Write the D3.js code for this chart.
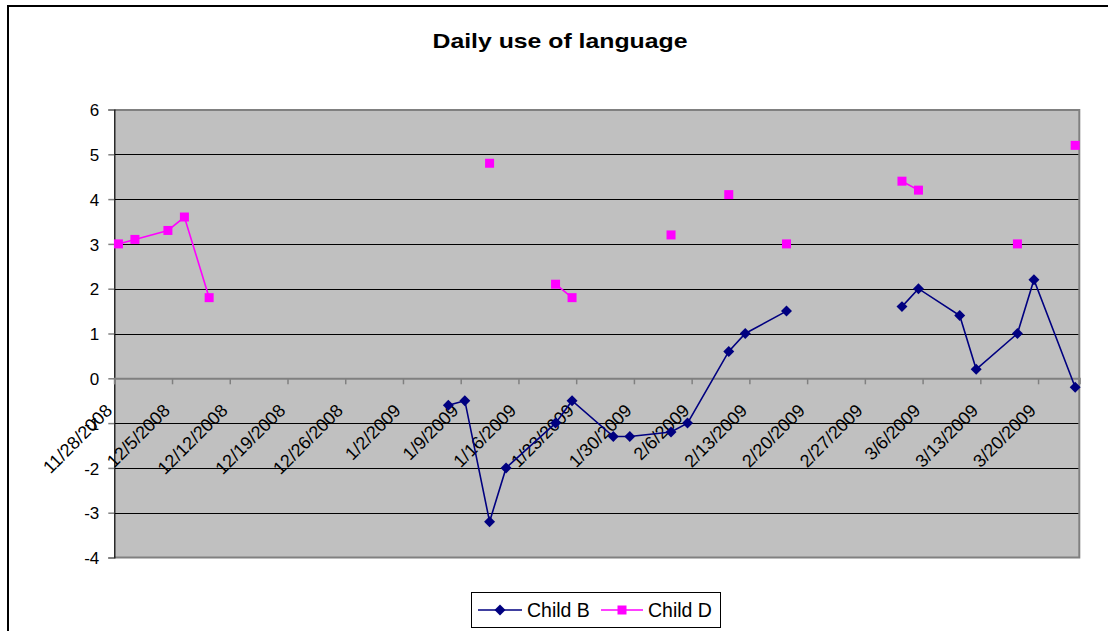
<!DOCTYPE html>
<html><head><meta charset="utf-8">
<script src="https://cdn.jsdelivr.net/npm/d3@7"></script>
<style>body{margin:0;background:#fff}svg{display:block;font-family:"Liberation Sans",Arial,sans-serif}</style>
</head><body><svg id="c" width="1108" height="631"></svg>
<script>
// ---- data ----
const dates = ["11/28/2008","11/30/2008","12/4/2008","12/6/2008","12/9/2008","1/7/2009","1/9/2009","1/12/2009","1/14/2009","1/20/2009","1/22/2009","1/27/2009","1/29/2009","2/3/2009","2/5/2009","2/10/2009","2/12/2009","2/17/2009","2/24/2009","3/3/2009","3/5/2009","3/10/2009","3/12/2009","3/17/2009","3/19/2009","3/24/2009"];
const childB = [null,null,null,null,null,-0.6,-0.5,-3.2,-2.0,-1.0,-0.5,-1.3,-1.3,-1.2,-1.0,0.6,1.0,1.5,null,1.6,2.0,1.4,0.2,1.0,2.2,-0.2];
const childD = [3.0,3.1,3.3,3.6,1.8,null,null,4.8,null,2.1,1.8,null,null,3.2,null,4.1,null,3.0,null,4.4,4.2,null,null,3.0,null,5.2];
const yTicks = [6,5,4,3,2,1,0,-1,-2,-3,-4];
const xTickLabels = ["11/28/2008","12/5/2008","12/12/2008","12/19/2008","12/26/2008","1/2/2009","1/9/2009","1/16/2009","1/23/2009","1/30/2009","2/6/2009","2/13/2009","2/20/2009","2/27/2009","3/6/2009","3/13/2009","3/20/2009"];
const seriesNames = ["Child B","Child D"];
const title = "Daily use of language";

const parse = s => { const [m,d,y] = s.split("/").map(Number); return new Date(Date.UTC(y,m-1,d)); };
const DAY = 864e5;
const svg = d3.select("#c");
const FONT = "Liberation Sans, Arial, sans-serif";
const L = 114.3, R = 1079.3, T = 109.5, B = 557.5;

const x = d3.scaleUtc().domain([parse("11/28/2008"), new Date(parse("3/24/2009").getTime()+DAY)]).range([L,R]);
const y = d3.scaleLinear().domain([-4,6]).range([B,T]);
const xc = s => x(new Date(parse(s).getTime()+DAY/2));

const diamond = { draw(ctx,size){ const r=Math.sqrt(size/2); ctx.moveTo(0,-r); ctx.lineTo(r,0); ctx.lineTo(0,r); ctx.lineTo(-r,0); ctx.closePath(); } };
const shapes = [diamond, d3.symbolSquare];
const sizes = [60, 81];
const colors = ["#000080","#ff00ff"];

// outer border
svg.append("rect").attr("x",8).attr("y",6).attr("width",1120).attr("height",650)
  .attr("fill","none").attr("stroke","#000").attr("stroke-width",2);

// title
svg.append("text").attr("x",560).attr("y",48).attr("text-anchor","middle")
  .attr("font-size",21).attr("font-weight","bold")
  .attr("textLength",255).attr("lengthAdjust","spacingAndGlyphs").text(title);

// plot area
svg.append("rect").attr("x",L).attr("y",T).attr("width",R-L).attr("height",B-T).attr("fill","#c0c0c0");

// gridlines
svg.append("g").selectAll("line").data(yTicks.filter(v=>v!==6 && v!==-4 && v!==0)).join("line")
  .attr("x1",L).attr("x2",R).attr("y1",d=>Math.round(y(d))+0.5).attr("y2",d=>Math.round(y(d))+0.5)
  .attr("stroke","#000").attr("stroke-width",1);

// top/right/bottom border of plot
svg.append("path").attr("d",`M${L},${Math.round(T)}H${R}V${B}H${L}`).attr("fill","none").attr("stroke","#808080").attr("stroke-width",2);

// y axis
const yAxis = d3.axisLeft(y).tickValues(yTicks).tickSize(6).tickPadding(9).tickFormat(d=>String(d));
const gy = svg.append("g").attr("transform",`translate(${L},0)`).call(yAxis);
gy.select(".domain").attr("stroke","#000").attr("stroke-width",1.2);
gy.selectAll(".tick line").attr("stroke","#808080").attr("stroke-width",1.5);
gy.selectAll("text").attr("font-size",17).attr("fill","#000").attr("font-family",FONT).attr("dy","0.36em");

// x axis at y=0
const xTickDates = xTickLabels.map(parse);
const xAxis = d3.axisBottom(x).tickValues(xTickDates).tickSize(6).tickFormat((d,i)=>xTickLabels[i]);
const gx = svg.append("g").attr("transform",`translate(0,${y(0)})`).call(xAxis);
gx.select(".domain").attr("stroke","#808080").attr("stroke-width",2);
gx.selectAll(".tick line").attr("stroke","#808080").attr("stroke-width",1.5);
gx.selectAll(".tick text").attr("font-size",18).attr("fill","#000").attr("font-family",FONT)
  .attr("text-anchor","end").attr("y",0).attr("dy","0.35em")
  .attr("transform","translate(-6,29) rotate(-45)");

// series
[childB, childD].forEach((vals,si)=>{
  const pts = dates.map((d,i)=>({d, v: vals[i]}));
  const line = d3.line().defined(p=>p.v!==null).x(p=>xc(p.d)).y(p=>y(p.v));
  svg.append("path").attr("d",line(pts)).attr("fill","none").attr("stroke",colors[si]).attr("stroke-width",1.6);
  svg.append("g").selectAll("path").data(pts.filter(p=>p.v!==null)).join("path")
    .attr("d",d3.symbol().type(shapes[si]).size(sizes[si]))
    .attr("transform",p=>`translate(${xc(p.d)},${y(p.v)})`)
    .attr("fill",colors[si]);
});

// legend
const lg = svg.append("g");
lg.append("rect").attr("x",471.5).attr("y",592.5).attr("width",249).attr("height",35).attr("fill","#fff").attr("stroke","#000").attr("stroke-width",1);
const legItems = [{x0:478,x1:522,tx:527},{x0:601,x1:643,tx:648}];
legItems.forEach((it,i)=>{
  lg.append("line").attr("x1",it.x0).attr("x2",it.x1).attr("y1",610).attr("y2",610).attr("stroke",colors[i]).attr("stroke-width",1.6);
  lg.append("path").attr("d",d3.symbol().type(shapes[i]).size(sizes[i])())
    .attr("transform",`translate(${(it.x0+it.x1)/2},610)`).attr("fill",colors[i]);
  lg.append("text").attr("x",it.tx).attr("y",617).attr("font-size",19.5).text(seriesNames[i]);
});
</script></body></html>
